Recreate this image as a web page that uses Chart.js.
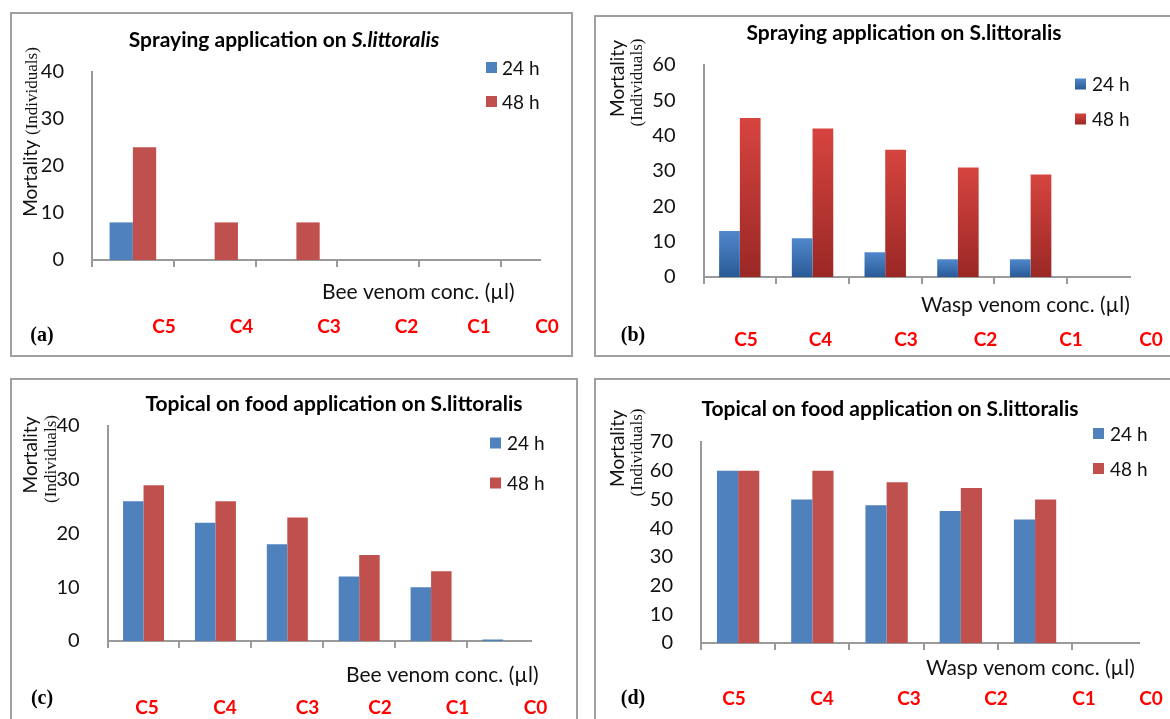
<!DOCTYPE html>
<html>
<head>
<meta charset="utf-8">
<script src="https://cdn.jsdelivr.net/npm/chart.js@4.4.0/dist/chart.umd.min.js"></script>
<style>
  html, body { margin: 0; padding: 0; background: #fff; }
  #page { position: relative; width: 1170px; height: 719px; overflow: hidden; background: #fff; }
  .frame { position: absolute; border: 2px solid #a0a0a0; box-sizing: border-box; }
  canvas { position: absolute; left: 0; top: 0; }
</style>
</head>
<body>
<div id="page">
  <div class="frame" style="left:10px;top:12px;width:563px;height:345px"></div>
  <div class="frame" style="left:594px;top:15px;width:620px;height:342px"></div>
  <div class="frame" style="left:10px;top:378px;width:568px;height:400px"></div>
  <div class="frame" style="left:594px;top:378px;width:620px;height:400px"></div>
  <canvas id="chartA" width="1170" height="719"></canvas>
  <canvas id="chartB" width="1170" height="719"></canvas>
  <canvas id="chartC" width="1170" height="719"></canvas>
  <canvas id="chartD" width="1170" height="719"></canvas>
</div>
<script>
// Concentrations, highest to control
const categories = ['C5', 'C4', 'C3', 'C2', 'C1', 'C0'];
const seriesLabels = ['24 h', '48 h'];

// Mortality (individuals) per concentration
const beeSpray24  = [8, 0, 0, 0, 0, 0];
const beeSpray48  = [24, 8, 8, 0, 0, 0];
const waspSpray24 = [13, 11, 7, 5, 5, 0];
const waspSpray48 = [45, 42, 36, 31, 29, 0];
const beeFood24   = [26, 22, 18, 12, 10, 0.3];
const beeFood48   = [29, 26, 23, 16, 13, 0];
const waspFood24  = [60, 50, 48, 46, 43, 0];
const waspFood48  = [60, 60, 56, 54, 50, 0];

// Y-axis tick values
const ticksBeeSpray  = [0, 10, 20, 30, 40];
const ticksWaspSpray = [0, 10, 20, 30, 40, 50, 60];
const ticksBeeFood   = [0, 10, 20, 30, 40];
const ticksWaspFood  = [0, 10, 20, 30, 40, 50, 60, 70];

const W = 1170, H = 719;
const Y_W = 80, X_H = 10;
const AXIS = '#9a9a9a';
const SANS = 'Lato, "Open Sans", sans-serif';
const SERIF = '"Liberation Serif", "DejaVu Serif", serif';
const BLUE = '#4f81bd', RED = '#c0504d';

const panels = [
  {
    id: 'chartA', letter: '(a)', letterAt: [42, 336],
    title: [['Spraying application on ', 'bold 21px ' + SANS], ['S.littoralis', 'italic bold 21px ' + SANS]],
    titleAt: [284, 40],
    area: { left: 92, right: 540, top: 72, bottom: 260 }, xMax: 4.98,
    ticks: ticksBeeSpray, s24: beeSpray24, s48: beeSpray48, gradient: false,
    legend: { x: 486, textX: 502, ys: [67.5, 101.5] },
    yTitle: { single: true, x: 37, y: 132 },
    xTitle: { text: 'Bee venom conc. (\u00b5l)', x: 322, y: 292 },
    catXs: [164, 241.5, 329, 406.5, 479, 547], catY: 327
  },
  {
    id: 'chartB', letter: '(b)', letterAt: [633, 336],
    title: [['Spraying application on S.littoralis', 'bold 21px ' + SANS]],
    titleAt: [904, 33],
    area: { left: 703.5, right: 1129.5, top: 65, bottom: 277 }, xMax: 5.36,
    ticks: ticksWaspSpray, s24: waspSpray24, s48: waspSpray48, gradient: true,
    legend: { x: 1075, textX: 1092, ys: [84, 119] },
    yTitle: { single: false, x1: 624, y1: 78.5, x2: 642, y2: 82.5 },
    xTitle: { text: 'Wasp venom conc. (\u00b5l)', x: 921, y: 305 },
    catXs: [746, 820.5, 906, 985.5, 1071, 1151], catY: 340
  },
  {
    id: 'chartC', letter: '(c)', letterAt: [42, 699],
    title: [['Topical on food application on S.littoralis', 'bold 21px ' + SANS]],
    titleAt: [334, 404],
    area: { left: 107.6, right: 531, top: 426, bottom: 641 }, xMax: 5.39,
    ticks: ticksBeeFood, s24: beeFood24, s48: beeFood48, gradient: false,
    legend: { x: 490, textX: 507, ys: [443, 483] },
    yTitle: { single: false, x1: 37, y1: 455, x2: 56, y2: 459 },
    xTitle: { text: 'Bee venom conc. (\u00b5l)', x: 346, y: 675 },
    catXs: [147, 225, 307.5, 380, 457.5, 535.5], catY: 708
  },
  {
    id: 'chartD', letter: '(d)', letterAt: [633, 699],
    title: [['Topical on food application on S.littoralis', 'bold 21px ' + SANS]],
    titleAt: [890, 409],
    area: { left: 701, right: 1139, top: 442, bottom: 643 }, xMax: 5.40,
    ticks: ticksWaspFood, s24: waspFood24, s48: waspFood48, gradient: false,
    legend: { x: 1093, textX: 1110, ys: [433.5, 468.5] },
    yTitle: { single: false, x1: 624, y1: 448.5, x2: 642, y2: 452.5 },
    xTitle: { text: 'Wasp venom conc. (\u00b5l)', x: 926, y: 668 },
    catXs: [734, 822, 909, 996, 1084, 1151], catY: 699
  }
];

// Vertical shading used by the spraying-on-wasp chart
const SHADES = [
  { top: '#5088cc', bottom: '#2a5a96' },
  { top: '#d6443f', bottom: '#9a2825' }
];

function shadedFill(ctx2d, series, top, bottom) {
  const g = ctx2d.createLinearGradient(0, top, 0, bottom);
  g.addColorStop(0, SHADES[series].top);
  g.addColorStop(1, SHADES[series].bottom);
  return g;
}

function drawRuns(ctx, runs, cx, cy) {
  let total = 0;
  const widths = runs.map(([text, font]) => { ctx.font = font; const w = ctx.measureText(text).width; total += w; return w; });
  let x = cx - total / 2;
  runs.forEach(([text, font], i) => { ctx.font = font; ctx.fillText(text, x, cy); x += widths[i]; });
}

// Titles, legend, axis captions and concentration labels
const panelText = {
  id: 'panelText',
  afterDraw(chart, args, opts) {
    const p = opts.panel;
    const ctx = chart.ctx;
    ctx.save();
    ctx.fillStyle = '#000';

    // title
    ctx.textAlign = 'left';
    ctx.textBaseline = 'middle';
    drawRuns(ctx, p.title, p.titleAt[0], p.titleAt[1]);

    // legend
    const sq = 11;
    chart.data.datasets.forEach((ds, i) => {
      const y = p.legend.ys[i];
      ctx.fillStyle = p.gradient ? shadedFill(ctx, i, y - sq / 2, y + sq / 2) : (i === 0 ? BLUE : RED);
      ctx.fillRect(p.legend.x, y - sq / 2, sq, sq);
      ctx.fillStyle = '#111';
      ctx.font = '19px ' + SANS;
      ctx.textAlign = 'left';
      ctx.textBaseline = 'middle';
      ctx.fillText(ds.label, p.legend.textX, y + 1);
    });

    // y-axis caption
    ctx.fillStyle = '#111';
    ctx.textBaseline = 'alphabetic';
    const yt = p.yTitle;
    if (yt.single) {
      ctx.save();
      ctx.translate(yt.x, yt.y);
      ctx.rotate(-Math.PI / 2);
      drawRuns(ctx, [['Mortality ', '19px ' + SANS], ['(Individuals)', '17px ' + SERIF]], 0, 0);
      ctx.restore();
    } else {
      ctx.save();
      ctx.translate(yt.x1, yt.y1);
      ctx.rotate(-Math.PI / 2);
      drawRuns(ctx, [['Mortality', '19px ' + SANS]], 0, 0);
      ctx.restore();
      ctx.save();
      ctx.translate(yt.x2, yt.y2);
      ctx.rotate(-Math.PI / 2);
      drawRuns(ctx, [['(Individuals)', '17px ' + SERIF]], 0, 0);
      ctx.restore();
    }

    // x-axis caption
    ctx.font = '21px ' + SANS;
    ctx.textAlign = 'left';
    ctx.textBaseline = 'middle';
    ctx.fillText(p.xTitle.text, p.xTitle.x, p.xTitle.y);

    // concentration labels
    ctx.fillStyle = '#ff0000';
    ctx.font = 'bold 19px ' + SANS;
    ctx.textAlign = 'center';
    categories.forEach((c, i) => ctx.fillText(c, p.catXs[i], p.catY));

    // panel letter
    ctx.fillStyle = '#000';
    ctx.font = 'bold 20px ' + SERIF;
    ctx.fillText(p.letter, p.letterAt[0], p.letterAt[1]);

    ctx.restore();
  }
};

function barFill(p, series) {
  if (!p.gradient) return series === 0 ? BLUE : RED;
  return (c) => {
    const chart = c.chart;
    const ys = chart.scales.y;
    if (!ys || c.parsed == null || c.parsed.y == null) return SHADES[series].top;
    const top = ys.getPixelForValue(c.parsed.y);
    const bottom = ys.getPixelForValue(0);
    if (!isFinite(top) || bottom - top < 1) return SHADES[series].top;
    return shadedFill(chart.ctx, series, top, bottom);
  };
}

panels.forEach(p => {
  const a = p.area;
  const boundaries = [];
  for (let b = -0.5; b <= p.xMax; b += 1) boundaries.push(b);
  const series = [p.s24, p.s48];

  new Chart(document.getElementById(p.id), {
    type: 'bar',
    data: {
      datasets: series.map((vals, s) => ({
        label: seriesLabels[s],
        data: vals.map((v, i) => ({ x: i, y: v })),
        backgroundColor: barFill(p, s),
        borderWidth: 0,
        barPercentage: 1,
        categoryPercentage: 0.57
      }))
    },
    options: {
      responsive: false,
      animation: false,
      events: [],
      layout: {
        padding: {
          left: a.left - Y_W,
          top: a.top,
          right: W - a.right,
          bottom: H - a.bottom - X_H
        }
      },
      plugins: {
        legend: { display: false },
        title: { display: false },
        tooltip: { enabled: false },
        panelText: { panel: p }
      },
      scales: {
        x: {
          type: 'linear',
          min: -0.5,
          max: p.xMax,
          offset: false,
          afterBuildTicks: (axis) => { axis.ticks = boundaries.map(v => ({ value: v })); },
          afterFit: (s) => { s.height = X_H; },
          ticks: { display: false },
          grid: { display: true, offset: false, drawOnChartArea: false, drawTicks: true, tickLength: 7, color: AXIS, lineWidth: 2 },
          border: { display: true, color: AXIS, width: 2 }
        },
        y: {
          min: 0,
          max: p.ticks[p.ticks.length - 1],
          afterBuildTicks: (axis) => { axis.ticks = p.ticks.map(v => ({ value: v })); },
          afterFit: (s) => { s.width = Y_W; },
          ticks: { padding: 20, color: '#111', font: { family: SANS, size: 20 } },
          grid: { display: false },
          border: { display: true, color: AXIS, width: 2 }
        }
      }
    },
    plugins: [panelText]
  });
});
</script>
</body>
</html>
